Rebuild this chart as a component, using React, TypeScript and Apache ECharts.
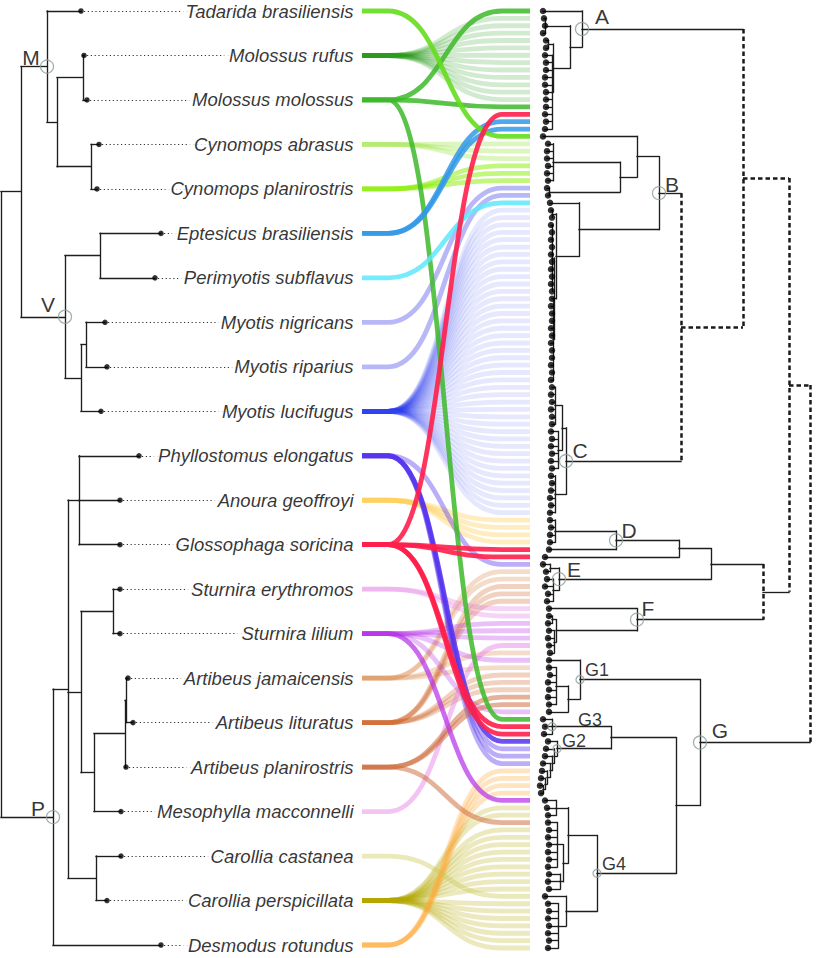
import React, { useEffect, useRef } from 'react';
import * as echarts from 'echarts';

// ---------------- DATA ----------------
const species = [
  'Tadarida brasiliensis', 'Molossus rufus', 'Molossus molossus', 'Cynomops abrasus',
  'Cynomops planirostris', 'Eptesicus brasiliensis', 'Perimyotis subflavus', 'Myotis nigricans',
  'Myotis riparius', 'Myotis lucifugus', 'Phyllostomus elongatus', 'Anoura geoffroyi',
  'Glossophaga soricina', 'Sturnira erythromos', 'Sturnira lilium', 'Artibeus jamaicensis',
  'Artibeus lituratus', 'Artibeus planirostris', 'Mesophylla macconnelli', 'Carollia castanea',
  'Carollia perspicillata', 'Desmodus rotundus',
];

const speciesColors = [
  '#66dd1e', '#1e9410', '#3db82a', '#8fe02a', '#88ee00', '#3399e6', '#5ee8fa', '#6262ea',
  '#6262ea', '#3344ee', '#5533ee', '#ffc22e', '#ff1f4b', '#e070e0', '#b52ee8', '#d98040',
  '#cc5f1e', '#cc6633', '#e47ae4', '#c8c850', '#b5a800', '#ffa733',
];

// host tree: [depth, ...children] or [label, depth, ...children]; leaves are tip depths
const hostTree: any = [1,
  [21,
    ['M', 47, 81, [57, [83, 84, 87], [91, 99, 97]]],
    ['V', 65, [100, 161, 155], [81, [86, 105, 107], 101]]],
  ['P', 53,
    [68, [79, 139, 120, 120], [81, [113, 120, 120], [94, [125, [126, 128, 133], 126], 121]], [96, 121, 107]],
    161]];

// sequence tree (128 tips)
const cladeA: any = ['A', 582, 543, [570, [545, 544, 545, 543], [553, [548, 546, 546], [552, 545, 546, 546, 545, 545, 546, 546, 546, 545, 546, 545]]]];
const cladeB: any = ['B', 659,
  [637, 543, [620, [553, 548, 547, 547, 548, 547, 548], [549, 547, 548]]],
  [579, 550, [556, [552, 551, 552], [554, [552, 551, 552, 551, 552, 551, 552, 551, 552, 551, 552], [553, 552, 551, 552, 552, 551, 552, 551, 552, 552, 551, 552, 551]]]]];
const cladeC: any = ['C', 566, [562, [555, 552, 551, 552, 551, 552, 552], [558, 551, 552, 551, 552, 551, 552]], [555, 551, 552, 551, 550, 551, 550]];
const cladeD: any = ['D', 616, [555, 550, 551, 550, 550], 549];
const cladeE: any = ['E', 559, [550, 543, 546], [553, 547, 545, 548, 547]];
const cladeF: any = ['F', 637, 549, [556, [552, 549, 548], [554, 549, 548, 549, 550]]];
const cladeG1: any = ['G1', 580, 549, [568, [556, 549, 550, 548, 549, 548, 549], 549]];
const cladeG3: any = ['G3', 552, 543, 545, 544];
const cladeG2: any = ['G2', 557, 548, [554, 546, [552, 545, [550, 543, [547, 542, [545, 541, [543, 540, 541]]]]]]];
const cladeG4: any = ['G4', 597, [568, [556, 545, 547, 548], [563, [557, 548, 549, 548, 549, 548, 549, 548], [560, 549, 548, 549]]], [566, 545, [558, 548, 549, 548, 549, 548, 549, 548]]];
const cladeG: any = ['G', 700, cladeG1, [676, [611, cladeG3, cladeG2], cladeG4]];
const seqTree: any = ['#root', 810,
  ['#n789', 789, ['#abc', 743, cladeA, ['#bc', 681, cladeB, cladeC]], ['#def', 763, [711, [679, cladeD, 545], cladeE], cladeF]],
  cladeG];
const dashedVertical = ['#root', '#n789', '#abc', '#bc', '#def'];
const dashedStem = ['#n789', '#abc', '#bc'];

// links: host species -> sequence tips
const linkTips = [
  [17],
  [1, 2, 3, 4, 5, 6, 7, 8, 9, 10, 11, 12],
  [0, 13, 96],
  [18, 19, 20],
  [21, 22, 23],
  [15, 16],
  [26],
  [24],
  [25],
  [27, 28, 29, 30, 31, 32, 33, 34, 35, 36, 37, 38, 39, 40, 41, 42, 43, 44, 45, 46, 47, 48, 49, 50, 51, 52, 53, 54, 55, 56, 57, 58, 59, 60, 61, 62, 63, 64, 65, 66, 67, 68],
  [75, 99, 100, 101, 102],
  [69, 70, 71, 72],
  [14, 73, 74, 97, 98],
  [81, 82],
  [83, 84, 85, 88, 95, 107],
  [76, 77, 87, 89],
  [78, 79, 80, 90, 91, 92],
  [93, 94, 110],
  [86],
  [120],
  [108, 109, 111, 112, 113, 114, 115, 116, 117, 118, 119, 121, 122, 123, 124, 125, 126, 127],
  [103, 104, 105, 106],
];
const linkAlpha = [0.9, 0.2, 0.85, 0.3, 0.5, 0.85, 0.85, 0.45, 0.45, 0.12, 0.4, 0.3, 0.9, 0.3, 0.3, 0.28, 0.28, 0.5, 0.45, 0.4, 0.25, 0.3];
const strongLinks = [[10, 99, 0.85], [14, 107, 0.7]];

const nodeLabelOffset: Record<string, number[]> = {
  M: [-16, -9], V: [-17, -12], P: [-15, -9],
  A: [20, -12], B: [13, -9], C: [14, -11], D: [13, -10], E: [15, -10], F: [11, -11],
  G: [20, -12], G1: [17, -10], G2: [17, -8], G3: [38, -7], G4: [17, -9],
};

// ---------------- LAYOUT HELPERS ----------------
const W = 821, H = 958;
const HOST_TOP = 11, HOST_BOTTOM = 945, SEQ_TOP = 11, SEQ_BOTTOM = 948;
const LABEL_RIGHT = 355, LINK_X0 = 362, LINK_XA = 388, LINK_XC = 445, LINK_XB = 502, LINK_X3 = 530;

interface LNode { x: number; y: number; label: string | null; kids: LNode[]; idx: number; }

function countLeaves(t: any): number {
  if (typeof t === 'number') return 1;
  let s = 0;
  const arr = typeof t[0] === 'string' ? t.slice(2) : t.slice(1);
  for (const c of arr) s += countLeaves(c);
  return s;
}

function layoutTree(tree: any, top: number, bottom: number) {
  const n = countLeaves(tree);
  const step = (bottom - top) / (n - 1);
  let count = 0;
  const internals: LNode[] = [];
  const leaves: LNode[] = [];
  const walk = (t: any): LNode => {
    if (typeof t === 'number') {
      const node: LNode = { x: t, y: top + count * step, label: null, kids: [], idx: count };
      count++;
      leaves.push(node);
      return node;
    }
    let arr = t; let label: string | null = null;
    if (typeof arr[0] === 'string') { label = arr[0]; arr = arr.slice(1); }
    const kids = arr.slice(1).map(walk);
    const node: LNode = { x: arr[0], y: (kids[0].y + kids[kids.length - 1].y) / 2, label, kids, idx: -1 };
    internals.push(node);
    return node;
  };
  walk(tree);
  return { internals, leaves };
}

function segments(internals: LNode[], dv: string[], dh: string[]) {
  const solid: any[] = [], dashed: any[] = [];
  for (const nd of internals) {
    const v = { coords: [[nd.x, nd.kids[0].y], [nd.x, nd.kids[nd.kids.length - 1].y]] };
    (nd.label && dv.includes(nd.label) ? dashed : solid).push(v);
    for (const k of nd.kids) {
      const h = { coords: [[k.x, k.y], [nd.x, k.y]] };
      (k.label && dh.includes(k.label) ? dashed : solid).push(h);
    }
  }
  return { solid, dashed };
}

function buildOption() {
  const host = layoutTree(hostTree, HOST_TOP, HOST_BOTTOM);
  const seq = layoutTree(seqTree, SEQ_TOP, SEQ_BOTTOM);
  const hs = segments(host.internals, [], []);
  const ss = segments(seq.internals, dashedVertical, dashedStem);
  const solidSegs = hs.solid.concat(ss.solid);
  const dashedSegs = ss.dashed;
  const dottedSegs = host.leaves.map((l) => ({ coords: [[l.x + 3, l.y], [LABEL_RIGHT - 5, l.y]] }));

  const links: number[][] = [];
  linkTips.forEach((tips, s) => {
    tips.forEach((t) => {
      const strong = strongLinks.find((q) => q[0] === s && q[1] === t);
      links.push([host.leaves[s].y, seq.leaves[t].y, strong ? strong[2] : linkAlpha[s], s]);
    });
  });
  links.sort((a, b) => a[2] - b[2]);

  const labeled = host.internals.concat(seq.internals).filter((n) => n.label && n.label[0] !== '#');
  const nodeData = labeled.map((n) => {
    const small = (n.label as string).length > 1;
    return {
      value: [n.x, n.y],
      name: n.label,
      symbolSize: small ? 8 : 13,
      label: { offset: nodeLabelOffset[n.label as string] || [0, 0], fontSize: small ? 18 : 21 },
    };
  });

  const renderLink = (params: any, api: any) => {
    const y1 = api.value(0), y2 = api.value(1), a = api.value(2), s = api.value(3);
    const p0 = api.coord([LINK_X0, y1]);
    const pa = api.coord([LINK_XA, y1]);
    const c1 = api.coord([LINK_XC, y1]);
    const c2 = api.coord([LINK_XC, y2]);
    const pb = api.coord([LINK_XB, y2]);
    const p3 = api.coord([LINK_X3, y2]);
    const d = `M${p0[0]} ${p0[1]}L${pa[0]} ${pa[1]}C${c1[0]} ${c1[1]} ${c2[0]} ${c2[1]} ${pb[0]} ${pb[1]}L${p3[0]} ${p3[1]}`;
    return {
      type: 'path',
      shape: { pathData: d },
      style: { fill: 'none', stroke: speciesColors[s], lineWidth: 4.8, opacity: a },
      silent: true,
    };
  };

  const font = 'Liberation Sans, Arial, sans-serif';

  return {
    animation: false,
    backgroundColor: '#ffffff',
    grid: { left: 0, top: 0, right: 0, bottom: 0 },
    xAxis: { type: 'value', min: 0, max: W, show: false },
    yAxis: { type: 'value', min: 0, max: H, inverse: true, show: false },
    series: [
      {
        type: 'custom', renderItem: renderLink, data: links, z: 1, silent: true, clip: false,
      },
      {
        type: 'lines', coordinateSystem: 'cartesian2d', data: dottedSegs, z: 2, silent: true,
        lineStyle: { color: '#333333', width: 1.2, opacity: 1, type: [1.2, 2.6] },
      },
      {
        type: 'lines', coordinateSystem: 'cartesian2d', data: solidSegs, z: 3, silent: true,
        lineStyle: { color: '#1e1e1e', width: 1.35, opacity: 1, cap: 'square' },
      },
      {
        type: 'lines', coordinateSystem: 'cartesian2d', data: dashedSegs, z: 3, silent: true,
        lineStyle: { color: '#1a1a1a', width: 2.5, opacity: 1, type: [4.5, 3] },
      },
      {
        type: 'scatter', z: 4, silent: true, symbolSize: 5.5,
        data: host.leaves.map((l) => [l.x, l.y]),
        itemStyle: { color: '#000000' },
      },
      {
        type: 'scatter', z: 4, silent: true, symbolSize: 6.5,
        data: seq.leaves.map((l) => [l.x, l.y]),
        itemStyle: { color: '#000000' },
      },
      {
        type: 'scatter', z: 5, silent: true,
        data: nodeData,
        itemStyle: { color: 'rgba(0,0,0,0)', borderColor: '#8d9d9d', borderWidth: 1.3 },
        label: {
          show: true, position: 'inside', formatter: '{b}', color: '#000000',
          fontFamily: font, align: 'center', verticalAlign: 'middle',
        },
      },
      {
        type: 'scatter', z: 6, silent: true, symbolSize: 1,
        data: host.leaves.map((l, i) => ({ value: [LABEL_RIGHT, l.y], name: species[i] })),
        itemStyle: { color: 'rgba(0,0,0,0)' },
        label: {
          show: true, position: 'left', distance: 0, formatter: '{b}',
          fontFamily: font, fontStyle: 'italic', fontSize: 18.5, color: '#000000',
          backgroundColor: '#ffffff', padding: [0, 1, 0, 5],
        },
      },
    ],
  };
}

export default function App() {
  const ref = useRef<HTMLDivElement>(null);
  useEffect(() => {
    const chart = echarts.init(ref.current as HTMLDivElement, null, { renderer: 'svg' });
    chart.setOption(buildOption() as any);
    return () => chart.dispose();
  }, []);
  return (
    <div
      ref={ref}
      style={{ position: 'fixed', left: 0, top: 0, width: W, height: H, background: '#ffffff' }}
    />
  );
}
